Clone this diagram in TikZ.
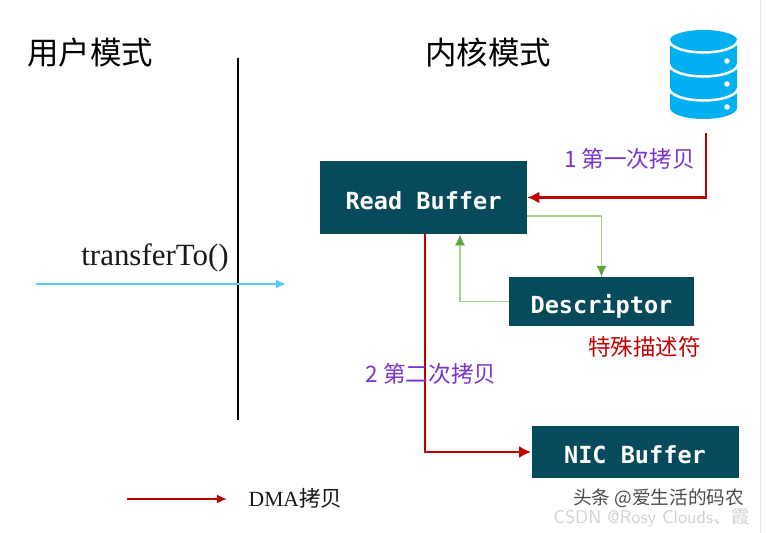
\documentclass[tikz,border=0pt]{standalone}
\usepackage{fontspec}
\setmainfont{Liberation Serif}
\newfontfamily\cjk{Noto Sans CJK SC}
\newfontfamily\buffont{DejaVu Sans Mono}
\usetikzlibrary{arrows.meta,positioning}
\definecolor{bufteal}{HTML}{064A5C}
\definecolor{dmared}{HTML}{C00000}
\definecolor{copypurple}{HTML}{7A35CF}
\definecolor{linkgreen}{HTML}{A9D18E}
\definecolor{tipgreen}{HTML}{5FA53A}
\definecolor{callblue}{HTML}{55CDF5}
\definecolor{dbblue}{HTML}{00B0F0}
\tikzset{
  buffer/.style={rectangle, fill=bufteal, text=white, inner sep=0pt, text height=0.58cm, text depth=0.1cm, font=\buffont\bfseries\fontsize{13.4}{15}\selectfont},
  dma/.style={line width=1.7pt, dmared, -{Latex[length=2.4mm,width=2.4mm]}},
  link/.style={line width=0.7pt, linkgreen, -{Latex[length=2.2mm,width=2mm,color=tipgreen]}},
  title/.style={font=\cjk\fontsize{17.9}{20}\selectfont, text=black},
  copylabel/.style={font=\cjk\fontsize{12.9}{15}\selectfont, text=copypurple}
}
\begin{document}
\begin{tikzpicture}
  \useasboundingbox[fill=white] (0,0) rectangle (15.32,-10.66);
  \draw[black!10, line width=0.5pt] (15.21,0) -- (15.21,-10.66);

  % Mode titles and the boundary
  \node[title] (user) at (1.80,-1.05) {用户模式};
  \node[title] (kernel) at (9.76,-1.05) {内核模式};
  \coordinate (walltop) at (4.76,-1.16);
  \coordinate (wallbot) at (4.76,-8.40);
  \draw[line width=1.7pt, black] (walltop) -- (wallbot);

  % Database icon
  \fill[dbblue] (13.40,-0.80) arc[start angle=180, end angle=0, x radius=0.67, y radius=0.20]
    -- (14.74,-2.16) arc[start angle=0, end angle=-180, x radius=0.67, y radius=0.22] -- cycle;
  \foreach \y in {-0.80,-1.28,-1.76} {
    \draw[white, line width=1.4pt] (13.38,\y) arc[start angle=180, end angle=360, x radius=0.69, y radius=0.25];
  }
  \foreach \y in {-1.22,-1.68,-2.14} {
    \fill[white] (14.54,\y) circle (0.055);
  }

  % Buffers
  \node[buffer, minimum width=4.14cm, minimum height=1.46cm] (read) at (8.47,-3.95) {Read Buffer};
  \node[buffer, minimum width=3.70cm, minimum height=0.97cm] (desc) at (12.03,-6.03) {Descriptor};
  \node[buffer, minimum width=4.14cm, minimum height=1.04cm] (nic) at (12.70,-9.04) {NIC Buffer};

  % Copies
  \coordinate (dbout) at (14.12,-2.66);
  \draw[dma] (dbout) |- (read.east);
  \draw[dma] ([xshift=0.03cm]read.south) |- (nic.west);
  \draw[link] ([yshift=-0.37cm]read.east) -| (desc.north);
  \draw[link] (desc.west) -| ([xshift=0.73cm]read.south);

  % transferTo call
  \coordinate (callin) at (0.72,-5.68);
  \coordinate (callout) at (5.72,-5.68);
  \draw[line width=1.3pt, callblue, -{Latex[length=2mm,width=1.8mm]}] (callin) -- (callout);
  \node[font=\fontsize{17.6}{19}\selectfont, text=black!90] (call) at (3.10,-5.15) {transferTo()};

  % Labels
  \node[copylabel] (first) at (12.59,-3.17) {1 第一次拷贝};
  \node[copylabel] (second) at (8.62,-7.48) {2 第二次拷贝};
  \node[font=\cjk\fontsize{12.8}{15}\selectfont, text=dmared] (special) at (12.89,-6.94) {特殊描述符};

  % Legend
  \coordinate (keyin) at (2.54,-9.98);
  \coordinate (keyout) at (4.54,-9.98);
  \draw[line width=1.4pt, dmared, -{Latex[length=2mm,width=1.8mm]}] (keyin) -- (keyout);
  \node[font=\fontsize{12.3}{14}\selectfont, text=black!90] (dmakey) at (5.91,-9.97) {DMA{\cjk 拷贝}};

  % Watermarks
  \node[inner sep=0pt, font=\cjk\fontsize{10.6}{12}\selectfont, text=black!70] (toutiao) at (13.17,-9.96) {头条 @爱生活的码农};
  \node[inner sep=0pt, font=\sffamily\fontsize{10.4}{12}\selectfont, text=black!18] (csdn) at (13.03,-10.36) {CSDN @Rosy Clouds{\cjk 、霞}};
\end{tikzpicture}
\end{document}
